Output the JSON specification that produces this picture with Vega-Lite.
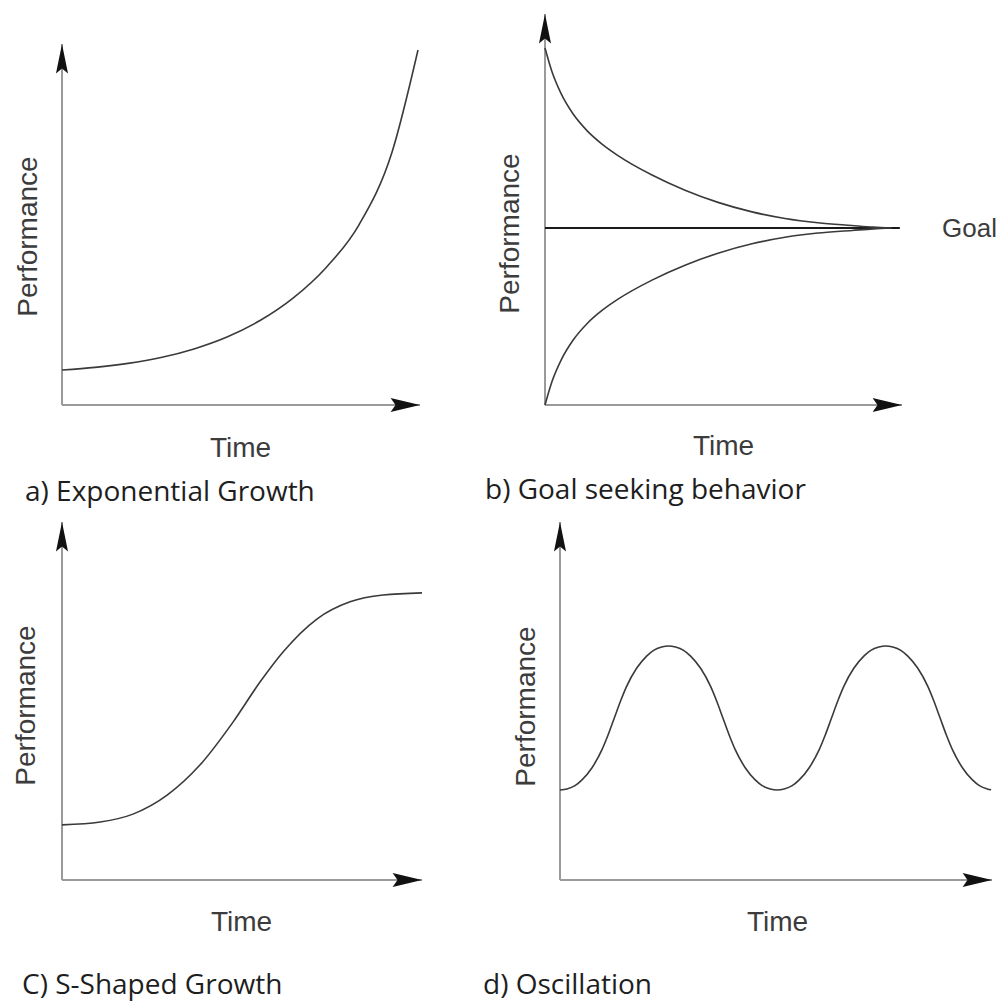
{
  "$schema": "https://vega.github.io/schema/vega-lite/v6.json",
  "background": "white",
  "padding": {"left": 12, "top": 13, "right": 4, "bottom": 4},
  "config": {
    "view": {"stroke": null},
    "axis": {"domain": false, "ticks": false, "labels": false, "grid": false, "titleFont": "Liberation Sans", "titleFontSize": 28, "titleFontWeight": "normal", "titleColor": "#3c3c3c", "titleBaseline": "alphabetic"},
    "title": {"font": "Open Sans", "fontSize": 28, "fontWeight": "normal", "color": "#1e1e1e", "orient": "bottom", "anchor": "start", "frame": "group"},
    "line": {"color": "#3a3a3a", "strokeWidth": 1.6, "interpolate": "monotone"},
    "rule": {"color": "#9a9a9a", "strokeWidth": 2},
    "point": {"filled": true, "opacity": 1, "color": "#111111", "size": 784, "strokeWidth": 0}
  },
  "datasets": {
    "a_curve": [
      {"t": 0, "p": 8.95}, {"t": 9.22, "p": 9.62}, {"t": 18.44, "p": 10.64}, {"t": 27.65, "p": 12.15},
      {"t": 36.87, "p": 14.35}, {"t": 46.09, "p": 17.39}, {"t": 55.31, "p": 21.61}, {"t": 64.53, "p": 27.34},
      {"t": 73.74, "p": 35.12}, {"t": 82.96, "p": 46.09}, {"t": 92.18, "p": 64.65}, {"t": 99.44, "p": 90.79}
    ],
    "b_curves": [
      {"s": "above", "t": 0, "p": 91.3}, {"s": "above", "t": 1.96, "p": 85.22}, {"s": "above", "t": 4.48, "p": 79.69},
      {"s": "above", "t": 7.84, "p": 74.48}, {"s": "above", "t": 11.76, "p": 70.18}, {"s": "above", "t": 15.97, "p": 66.73},
      {"s": "above", "t": 20.45, "p": 63.79}, {"s": "above", "t": 29.97, "p": 58.82}, {"s": "above", "t": 39.22, "p": 54.94},
      {"s": "above", "t": 48.46, "p": 51.82}, {"s": "above", "t": 57.98, "p": 49.39}, {"s": "above", "t": 67.23, "p": 47.7},
      {"s": "above", "t": 76.47, "p": 46.6}, {"s": "above", "t": 85.99, "p": 45.91}, {"s": "above", "t": 92.0, "p": 45.5},
      {"s": "above", "t": 97.0, "p": 45.27},
      {"s": "below", "t": 0, "p": 0}, {"s": "below", "t": 1.96, "p": 6.01}, {"s": "below", "t": 4.48, "p": 11.43},
      {"s": "below", "t": 7.84, "p": 16.55}, {"s": "below", "t": 11.76, "p": 20.79}, {"s": "below", "t": 15.97, "p": 24.17},
      {"s": "below", "t": 20.45, "p": 27.06}, {"s": "below", "t": 29.97, "p": 31.94}, {"s": "below", "t": 39.22, "p": 35.75},
      {"s": "below", "t": 48.46, "p": 38.82}, {"s": "below", "t": 57.98, "p": 41.23}, {"s": "below", "t": 67.23, "p": 42.89},
      {"s": "below", "t": 76.47, "p": 43.97}, {"s": "below", "t": 85.99, "p": 44.63}, {"s": "below", "t": 92.0, "p": 45.05},
      {"s": "below", "t": 97.0, "p": 45.27}
    ],
    "c_curve": [
      {"t": 0, "p": 15.4}, {"t": 10.6, "p": 16.2}, {"t": 19.7, "p": 18.4}, {"t": 29.2, "p": 23.7},
      {"t": 38.3, "p": 32.1}, {"t": 47.5, "p": 44.1}, {"t": 55.0, "p": 55.3}, {"t": 61.4, "p": 63.7},
      {"t": 70.8, "p": 72.9}, {"t": 80.0, "p": 77.7}, {"t": 89.2, "p": 79.6}, {"t": 100, "p": 80.2}
    ],
    "d_curve": [
      {"t": 0, "p": 25.14}, {"t": 1.62, "p": 25.44}, {"t": 3.47, "p": 26.35}, {"t": 5.09, "p": 27.96},
      {"t": 7.41, "p": 31.37}, {"t": 9.72, "p": 36.4}, {"t": 11.1, "p": 40.42}, {"t": 12.57, "p": 45.25},
      {"t": 14.04, "p": 50.08}, {"t": 15.42, "p": 54.1}, {"t": 17.73, "p": 59.13}, {"t": 20.05, "p": 62.54},
      {"t": 21.67, "p": 64.15}, {"t": 23.52, "p": 65.06}, {"t": 25.14, "p": 65.36}, {"t": 26.76, "p": 65.06},
      {"t": 28.61, "p": 64.15}, {"t": 30.23, "p": 62.54}, {"t": 32.55, "p": 59.13}, {"t": 34.86, "p": 54.1},
      {"t": 36.24, "p": 50.08}, {"t": 37.71, "p": 45.25}, {"t": 39.18, "p": 40.42}, {"t": 40.56, "p": 36.4},
      {"t": 42.87, "p": 31.37}, {"t": 45.19, "p": 27.96}, {"t": 46.81, "p": 26.35}, {"t": 48.66, "p": 25.44},
      {"t": 50.28, "p": 25.14}, {"t": 51.9, "p": 25.44}, {"t": 53.75, "p": 26.35}, {"t": 55.37, "p": 27.96},
      {"t": 57.69, "p": 31.37}, {"t": 60.0, "p": 36.4}, {"t": 61.38, "p": 40.42}, {"t": 62.85, "p": 45.25},
      {"t": 64.32, "p": 50.08}, {"t": 65.7, "p": 54.1}, {"t": 68.01, "p": 59.13}, {"t": 70.33, "p": 62.54},
      {"t": 71.95, "p": 64.15}, {"t": 73.8, "p": 65.06}, {"t": 75.42, "p": 65.36}, {"t": 77.04, "p": 65.06},
      {"t": 78.89, "p": 64.15}, {"t": 80.51, "p": 62.54}, {"t": 82.83, "p": 59.13}, {"t": 85.14, "p": 54.1},
      {"t": 86.52, "p": 50.08}, {"t": 87.99, "p": 45.25}, {"t": 89.46, "p": 40.42}, {"t": 90.84, "p": 36.4},
      {"t": 93.15, "p": 31.37}, {"t": 95.47, "p": 27.96}, {"t": 97.09, "p": 26.35}, {"t": 98.94, "p": 25.44},
      {"t": 99.8, "p": 25.2}
    ]
  },
  "spacing": 14,
  "vconcat": [
    {
      "spacing": 63,
      "hconcat": [
        {
          "width": 358, "height": 391,
          "title": {"text": "a) Exponential Growth", "dx": -37, "offset": 17},
          "encoding": {
            "x": {"field": "t", "type": "quantitative", "scale": {"domain": [0, 100], "nice": false}, "axis": {"title": "Time", "titleX": 178, "titleY": 51}},
            "y": {"field": "p", "type": "quantitative", "scale": {"domain": [0, 100], "nice": false}, "axis": {"title": "Performance", "titleX": -26, "titleY": 222}}
          },
          "layer": [
            {"data": {"values": [{"t": 0, "p": 0, "p2": 92.3}]}, "mark": "rule", "encoding": {"y2": {"field": "p2"}}},
            {"data": {"values": [{"t": 0, "t2": 100, "p": 0}]}, "mark": "rule", "encoding": {"x2": {"field": "t2"}}},
            {"data": {"name": "a_curve"}, "mark": "line"},
            {"data": {"values": [{"t": 0, "p": 92.3}]}, "mark": {"type": "point", "shape": "M0,0L-0.43,2.1L0,1.75L0.43,2.1Z"}},
            {"data": {"values": [{"t": 100, "p": 0}]}, "mark": {"type": "point", "shape": "M0,0L-2.1,-0.5L-1.75,0L-2.1,0.5Z"}}
          ]
        },
        {
          "width": 357, "height": 391,
          "title": {"text": "b) Goal seeking behavior", "dx": -60, "offset": 17},
          "encoding": {
            "x": {"field": "t", "type": "quantitative", "scale": {"domain": [0, 100], "nice": false}, "axis": {"title": "Time", "titleX": 178, "titleY": 49}},
            "y": {"field": "p", "type": "quantitative", "scale": {"domain": [0, 100], "nice": false}, "axis": {"title": "Performance", "titleX": -27, "titleY": 219}}
          },
          "layer": [
            {"data": {"values": [{"t": 0, "p": 0, "p2": 100}]}, "mark": "rule", "encoding": {"y2": {"field": "p2"}}},
            {"data": {"values": [{"t": 0, "t2": 100, "p": 0}]}, "mark": "rule", "encoding": {"x2": {"field": "t2"}}},
            {"data": {"values": [{"t": 0, "t2": 99.4, "p": 45.27}]}, "mark": {"type": "rule", "color": "#1a1a1a", "strokeWidth": 2}, "encoding": {"x2": {"field": "t2"}}},
            {"data": {"name": "b_curves"}, "mark": "line", "encoding": {"detail": {"field": "s"}}},
            {"data": {"values": [{"t": 111.2, "p": 45.27, "label": "Goal"}]}, "mark": {"type": "text", "font": "Liberation Sans", "fontSize": 26, "align": "left", "baseline": "middle", "dy": 1, "color": "#3c3c3c"}, "encoding": {"text": {"field": "label"}}},
            {"data": {"values": [{"t": 0, "p": 100}]}, "mark": {"type": "point", "shape": "M0,0L-0.43,2.1L0,1.75L0.43,2.1Z"}},
            {"data": {"values": [{"t": 100, "p": 0}]}, "mark": {"type": "point", "shape": "M0,0L-2.1,-0.5L-1.75,0L-2.1,0.5Z"}}
          ]
        }
      ]
    },
    {
      "spacing": 57,
      "hconcat": [
        {
          "width": 360, "height": 358,
          "title": {"text": "C) S-Shaped Growth", "dx": -40, "offset": 36},
          "encoding": {
            "x": {"field": "t", "type": "quantitative", "scale": {"domain": [0, 100], "nice": false}, "axis": {"title": "Time", "titleX": 179, "titleY": 50}},
            "y": {"field": "p", "type": "quantitative", "scale": {"domain": [0, 100], "nice": false}, "axis": {"title": "Performance", "titleX": -28, "titleY": 183}}
          },
          "layer": [
            {"data": {"values": [{"t": 0, "p": 0, "p2": 100}]}, "mark": "rule", "encoding": {"y2": {"field": "p2"}}},
            {"data": {"values": [{"t": 0, "t2": 100, "p": 0}]}, "mark": "rule", "encoding": {"x2": {"field": "t2"}}},
            {"data": {"name": "c_curve"}, "mark": "line"},
            {"data": {"values": [{"t": 0, "p": 100}]}, "mark": {"type": "point", "shape": "M0,0L-0.43,2.1L0,1.75L0.43,2.1Z"}},
            {"data": {"values": [{"t": 100, "p": 0}]}, "mark": {"type": "point", "shape": "M0,0L-2.1,-0.5L-1.75,0L-2.1,0.5Z"}}
          ]
        },
        {
          "width": 432, "height": 358,
          "title": {"text": "d) Oscillation", "dx": -77, "offset": 36},
          "encoding": {
            "x": {"field": "t", "type": "quantitative", "scale": {"domain": [0, 100], "nice": false}, "axis": {"title": "Time", "titleX": 217, "titleY": 50}},
            "y": {"field": "p", "type": "quantitative", "scale": {"domain": [0, 100], "nice": false}, "axis": {"title": "Performance", "titleX": -26, "titleY": 184}}
          },
          "layer": [
            {"data": {"values": [{"t": 0, "p": 0, "p2": 100}]}, "mark": "rule", "encoding": {"y2": {"field": "p2"}}},
            {"data": {"values": [{"t": 0, "t2": 100, "p": 0}]}, "mark": "rule", "encoding": {"x2": {"field": "t2"}}},
            {"data": {"name": "d_curve"}, "mark": "line"},
            {"data": {"values": [{"t": 0, "p": 100}]}, "mark": {"type": "point", "shape": "M0,0L-0.43,2.1L0,1.75L0.43,2.1Z"}},
            {"data": {"values": [{"t": 100, "p": 0}]}, "mark": {"type": "point", "shape": "M0,0L-2.1,-0.5L-1.75,0L-2.1,0.5Z"}}
          ]
        }
      ]
    }
  ]
}
